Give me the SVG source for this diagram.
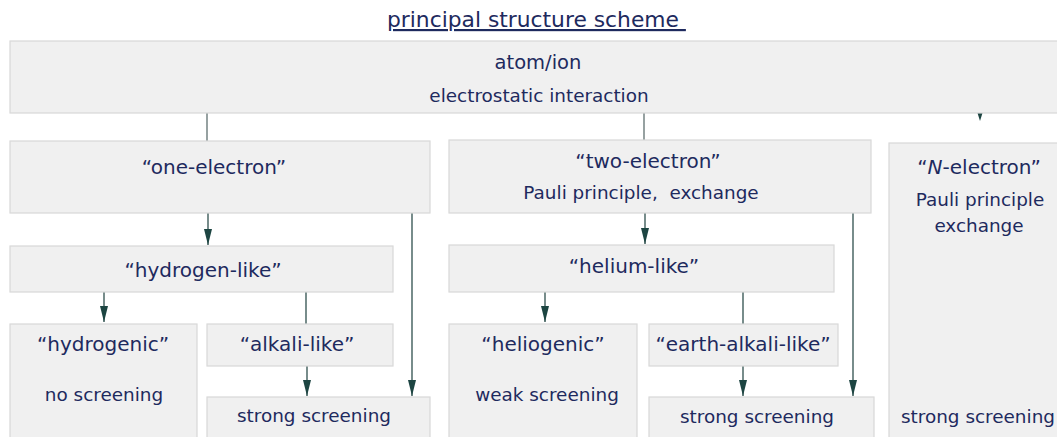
<svg xmlns="http://www.w3.org/2000/svg" width="1057" height="437" viewBox="0 0 1057 437">
<style>
.box{fill:#f0f0f0;stroke:#d8d8d8;stroke-width:1.2}
text{font-family:"DejaVu Sans",Verdana,sans-serif;font-size:18.4px;fill:#1e2a5e;text-anchor:middle}
.t{font-size:20px}
.ln{stroke:#2f4f4d;stroke-width:1.3;fill:none}
.lg{stroke:#5f6f6f;stroke-width:1.3;fill:none}
</style>
<defs>
<marker id="ah" viewBox="0 0 16 8" refX="16" refY="4" markerWidth="16" markerHeight="8" markerUnits="userSpaceOnUse" orient="auto">
<path d="M0,0 L16,4 L0,8 z" fill="#1d4542"/>
</marker>
</defs>
<text x="387" y="27" style="font-size:21.8px;text-anchor:start;text-decoration:underline;white-space:pre">principal structure scheme </text>
<g id="connectors">
<line class="lg" x1="207" y1="113" x2="207" y2="141"/>
<line class="lg" x1="644" y1="113" x2="644" y2="140"/>
<path d="M977.5,113 L982.5,113 L980,121 z" fill="#1d4542"/>
<line class="ln" x1="208" y1="213" x2="208" y2="245" marker-end="url(#ah)"/>
<line class="ln" x1="412" y1="213" x2="412" y2="396" marker-end="url(#ah)"/>
<line class="ln" x1="104" y1="292" x2="104" y2="322" marker-end="url(#ah)"/>
<line class="ln" x1="306" y1="292" x2="306" y2="324"/>
<line class="ln" x1="307" y1="366" x2="307" y2="396" marker-end="url(#ah)"/>
<line class="ln" x1="645" y1="213" x2="645" y2="244" marker-end="url(#ah)"/>
<line class="ln" x1="853" y1="213" x2="853" y2="396" marker-end="url(#ah)"/>
<line class="ln" x1="545" y1="292" x2="545" y2="322" marker-end="url(#ah)"/>
<line class="ln" x1="743" y1="292" x2="743" y2="324"/>
<line class="ln" x1="743" y1="366" x2="743" y2="396" marker-end="url(#ah)"/>
</g>
<g id="atom"><rect class="box" x="10" y="41" width="1055" height="72"/>
<text x="538" y="69" class="t" style="font-size:19.5px">atom/ion</text><text x="539" y="102">electrostatic interaction</text></g>
<g id="one"><rect class="box" x="10" y="141" width="420" height="72"/>
<text x="214" y="174" class="t">“one-electron”</text></g>
<g id="two"><rect class="box" x="449" y="140" width="422" height="73"/>
<text x="648" y="168" class="t">“two-electron”</text><text x="641" y="199" style="white-space:pre">Pauli principle,  exchange</text></g>
<g id="nel"><rect class="box" x="889" y="143" width="180" height="300"/>
<text x="979" y="174" class="t">“<tspan font-style="italic">N</tspan>-electron”</text>
<text x="980" y="206">Pauli principle</text><text x="979" y="232">exchange</text>
<text x="978" y="423">strong screening</text></g>
<g id="hlike"><rect class="box" x="10" y="246" width="383" height="46"/>
<text x="203" y="277" class="t">“hydrogen-like”</text></g>
<g id="hydrogenic"><rect class="box" x="10" y="324" width="187" height="120"/>
<text x="103" y="351" class="t">“hydrogenic”</text><text x="104" y="401">no screening</text></g>
<g id="alkali"><rect class="box" x="207" y="324" width="186" height="42"/>
<text x="297" y="351" class="t">“alkali-like”</text></g>
<g id="ss1"><rect class="box" x="207" y="397" width="223" height="46"/>
<text x="314" y="422">strong screening</text></g>
<g id="helike"><rect class="box" x="449" y="245" width="385" height="47"/>
<text x="634" y="273" class="t">“helium-like”</text></g>
<g id="heliogenic"><rect class="box" x="449" y="324" width="188" height="120"/>
<text x="543" y="351" class="t">“heliogenic”</text><text x="547" y="401">weak screening</text></g>
<g id="earth"><rect class="box" x="649" y="324" width="189" height="42"/>
<text x="743" y="351" class="t">“earth-alkali-like”</text></g>
<g id="ss2"><rect class="box" x="649" y="397" width="225" height="46"/>
<text x="757" y="423">strong screening</text></g>
</svg>
